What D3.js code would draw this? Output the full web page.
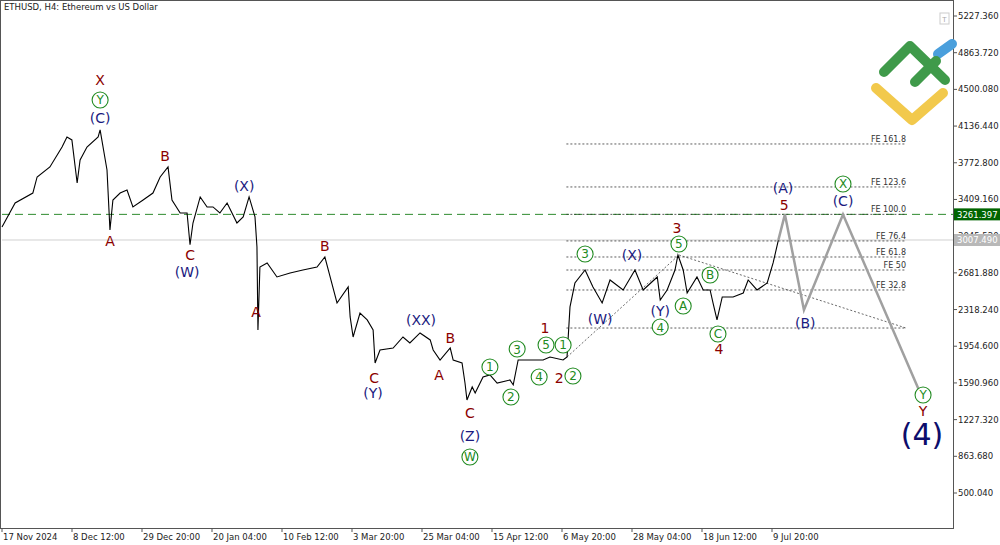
<!DOCTYPE html>
<html><head><meta charset="utf-8">
<script src="https://cdn.jsdelivr.net/npm/d3@7"></script>
<style>body{margin:0;background:#fff}svg{display:block;font-family:"DejaVu Sans",sans-serif}</style>
</head><body>
<svg id="chart" width="1000" height="545"></svg>
<script>
// price path: [days since 17 Nov 2024, price]
const priceDays = [0,4,9.4,10.7,14.6,18.3,19.8,21.3,22.9,23.8,25.9,29.3,29.9,32,32.9,33.8,36,38.1,39.9,43,46,48.2,50.6,51.8,54.3,56.4,57.3,58.2,60.4,62.5,64.3,66.4,68.6,71.6,73.5,75.3,77.1,77.7,78,78.6,80.8,83.8,87.8,91.7,96,98.4,100,102.1,105.5,106.1,107,109.1,111.3,113.1,113.7,115.2,119.2,122.2,124.3,127.4,130.5,131.4,133.5,136.6,137.5,140.2,141.1,141.7,143.3,144.2,146.6,148.7,150.9,154.8,155.8,157.3,160,163.1,164.9,167,171,172.2,173.1,174.6,177.7,180.1,182.9,185.3,189.3,192.9,195.4,199.7,200.6,202.7,205.1,206,207.6,208.8,211.8,213.7,215.8,216.7,217.9,219.5,222.8,225.9,227.4,230.1,233.2,235,236.6];
const priceValues = [3136,3374,3473,3632,3731,3929,4028,3999,3572,3800,3929,4028,4098,3701,3107,3404,3473,3503,3335,3404,3473,3632,3731,3404,3275,3275,2960,3176,3434,3335,3335,3275,3374,3176,3236,3434,3236,2938,2116,2740,2780,2641,2681,2710,2740,2839,2641,2383,2542,2245,2046,2284,2215,2116,1789,1917,1937,2046,1987,2086,2017,1917,1818,1937,1818,1789,1590,1422,1551,1491,1650,1670,1590,1620,1571,1818,1818,1818,1818,1848,1818,1848,2344,2581,2710,2542,2383,2611,2512,2710,2512,2641,2413,2512,2710,2859,2710,2482,2641,2512,2512,2383,2215,2443,2443,2482,2611,2512,2581,2780,3006];
// forecast path
const forecastDays = [236.6,238.6,244.4,256.3,280.1];
const forecastValues = [3006,3261,2314,3261,1472];

const priceTicks = [5227.36,4863.72,4500.08,4136.44,3772.8,3409.16,3045.52,2681.88,2318.24,1954.6,1590.96,1227.32,863.68,500.04];
const dateTickLabels = ["17 Nov 2024","8 Dec 12:00","29 Dec 20:00","20 Jan 04:00","10 Feb 12:00","3 Mar 20:00","25 Mar 04:00","15 Apr 12:00","6 May 20:00","28 May 04:00","18 Jun 12:00","9 Jul 20:00"];
const dateTickStep = 21.333;

const fibLabels = ["FE 161.8","FE 123.6","FE 100.0","FE 76.4","FE 61.8","FE 50","FE 32.8",""];
const fibValues = [3959,3533,3261.4,2998,2839,2710,2512,2135];
const fibStart = 172, fibEnd = 275.5;

const trendDays = [[172.2,206.3],[206.3,275.5]];
const trendValues = [[1848,2859],[2859,2135]];

const levelGreen = 3261.397, levelGray = 3007.49;

// wave labels: day, price, text, style (r=red, n=navy, c=circled green, big)
const waveDays = [29.9,29.9,29.9,49.7,32.9,57.3,56.4,73.8,77.4,98.4,113.4,113.1,127.7,136.6,133.2,142.6,142.6,142.6,148.7,155.1,157,163.7,165.8,165.5,171,169.8,174,177.7,182.3,192,200.6,200.6,205.7,206.3,207.6,215.8,218.2,218.5,238,238.4,244.8,256.3,256.3,280.7,280.7,280.4];
const waveValues = [4593,4395,4217,3840,2998,2859,2690,3543,2294,2948,1640,1491,2215,2036,1670,1293,1065,857,1749,1452,1927,1650,1967,2135,1967,1640,1660,2869,2225,2859,2304,2145,3127,2968,2354,2661,2076,1930,3523,3355,2185,3563,3394,1472,1313,1075];
const waveTexts = ["X","Y","(C)","B","A","C","(W)","(X)","A","B","C","(Y)","(XX)","B","A","C","(Z)","W","1","2","3","4","5","1","1","2","2","3","(W)","(X)","(Y)","4","3","5","A","B","C","4","(A)","5","(B)","X","(C)","Y","Y","(4)"];
const waveStyles = ["r","c","n","r","r","r","n","n","r","r","r","n","n","r","r","r","n","c","c","c","c","c","c","r","c","r","c","c","n","n","n","c","r","c","c","c","c","r","n","r","n","c","n","c","r","big"];

const svg = d3.select("#chart");
const plotLeft = 2, plotRight = 953, plotBottom = 528;
const x = d3.scaleLinear().domain([0, dateTickStep]).range([2, 72]);
const y = d3.scaleLinear().domain([500.04, 5227.36]).range([493, 16]);

svg.append("rect").attr("x", 0.5).attr("y", 0.5).attr("width", plotRight).attr("height", plotBottom)
    .attr("fill", "#fff").attr("stroke", "#555");

// price axis
const yAxis = svg.append("g");
priceTicks.forEach(v => {
    yAxis.append("line").attr("x1", plotRight).attr("x2", plotRight + 4).attr("y1", y(v)).attr("y2", y(v)).attr("stroke", "#555");
    yAxis.append("text").attr("x", plotRight + 5).attr("y", y(v) + 3).attr("font-size", 8.5).attr("fill", "#222").text(v.toFixed(3));
});

// date axis
dateTickLabels.forEach((t, i) => {
    const xx = x(i * dateTickStep);
    svg.append("line").attr("x1", xx).attr("x2", xx).attr("y1", plotBottom).attr("y2", plotBottom + 4).attr("stroke", "#555");
    svg.append("text").attr("x", xx + 1).attr("y", plotBottom + 12).attr("font-size", 8.5).attr("fill", "#222").text(t);
});

svg.append("text").attr("x", 4).attr("y", 10).attr("font-size", 8.5).attr("fill", "#222").text("ETHUSD, H4:  Ethereum vs US Dollar");

// horizontal levels
svg.append("line").attr("x1", plotLeft).attr("x2", plotRight).attr("y1", y(levelGray)).attr("y2", y(levelGray)).attr("stroke", "#d0d0d0");
svg.append("line").attr("x1", plotLeft).attr("x2", plotRight).attr("y1", y(levelGreen)).attr("y2", y(levelGreen))
    .attr("stroke", "#2e8b2e").attr("stroke-dasharray", "8,5");

// fib lines
fibValues.forEach((v, i) => {
    svg.append("line").attr("x1", x(fibStart)).attr("x2", x(fibEnd)).attr("y1", y(v)).attr("y2", y(v))
        .attr("stroke", "#333").attr("stroke-dasharray", "2,2").attr("stroke-width", 0.8);
    if (fibLabels[i]) svg.append("text").attr("x", x(fibEnd)).attr("y", y(v) - 2).attr("text-anchor", "end")
        .attr("font-size", 8).attr("fill", "#333").text(fibLabels[i]);
});

// trend lines
trendDays.forEach((d, i) => {
    svg.append("line").attr("x1", x(d[0])).attr("x2", x(d[1])).attr("y1", y(trendValues[i][0])).attr("y2", y(trendValues[i][1]))
        .attr("stroke", "#444").attr("stroke-dasharray", "2,2").attr("stroke-width", 0.8);
});

// price line
const line = d3.line().x(d => x(d[0])).y(d => y(d[1]));
svg.append("path").datum(d3.zip(priceDays, priceValues)).attr("d", line)
    .attr("fill", "none").attr("stroke", "#000").attr("stroke-width", 1.1);

// forecast
svg.append("path").datum(d3.zip(forecastDays, forecastValues)).attr("d", line)
    .attr("fill", "none").attr("stroke", "#a0a0a0").attr("stroke-width", 2.5);

// right-side price tags
[[levelGreen, "#006400"], [levelGray, "#b8b8b8"]].forEach(([v, c]) => {
    svg.append("rect").attr("x", plotRight + 1).attr("y", y(v) - 6).attr("width", 46).attr("height", 12).attr("fill", c);
    svg.append("text").attr("x", plotRight + 4).attr("y", y(v) + 3.5).attr("font-size", 8.5).attr("fill", "#fff").text(v.toFixed(3));
});

// wave labels
const colors = { r: "#8b0000", n: "#1a1a80", c: "#228b22", big: "#0d0d6b" };
waveTexts.forEach((t, i) => {
    const cx = x(waveDays[i]), cy = y(waveValues[i]), s = waveStyles[i];
    if (s === "c") {
        svg.append("circle").attr("cx", cx).attr("cy", cy).attr("r", 8).attr("fill", "#fff").attr("stroke", "#228b22").attr("stroke-width", 1.1);
    }
    svg.append("text").attr("x", cx).attr("y", cy + (s === "c" ? 0.5 : 0)).attr("text-anchor", "middle").attr("dominant-baseline", "central")
        .attr("font-size", s === "big" ? 30 : (s === "c" ? 12 : 14)).attr("fill", colors[s]).text(t);
});

// logo
const logo = svg.append("g").attr("fill", "none").attr("stroke-linecap", "round").attr("stroke-linejoin", "round").attr("stroke-width", 10);
logo.append("path").attr("d", "M938,54 L952,44").attr("stroke", "#4a9fdc");
logo.append("path").attr("d", "M884,72 L910,46 L945,80").attr("stroke", "#3f9a4a");
logo.append("path").attr("d", "M915,82 L936,61").attr("stroke", "#3f9a4a");
logo.append("path").attr("d", "M876,88 L912,120 L943,93").attr("stroke", "#f2c94c");

svg.append("rect").attr("x", 940).attr("y", 13).attr("width", 9).attr("height", 11).attr("fill", "#fff").attr("stroke", "#ccc");
svg.append("text").attr("x", 944.5).attr("y", 22).attr("text-anchor", "middle").attr("font-size", 7).attr("fill", "#aaa").text("T");
</script>
</body></html>
